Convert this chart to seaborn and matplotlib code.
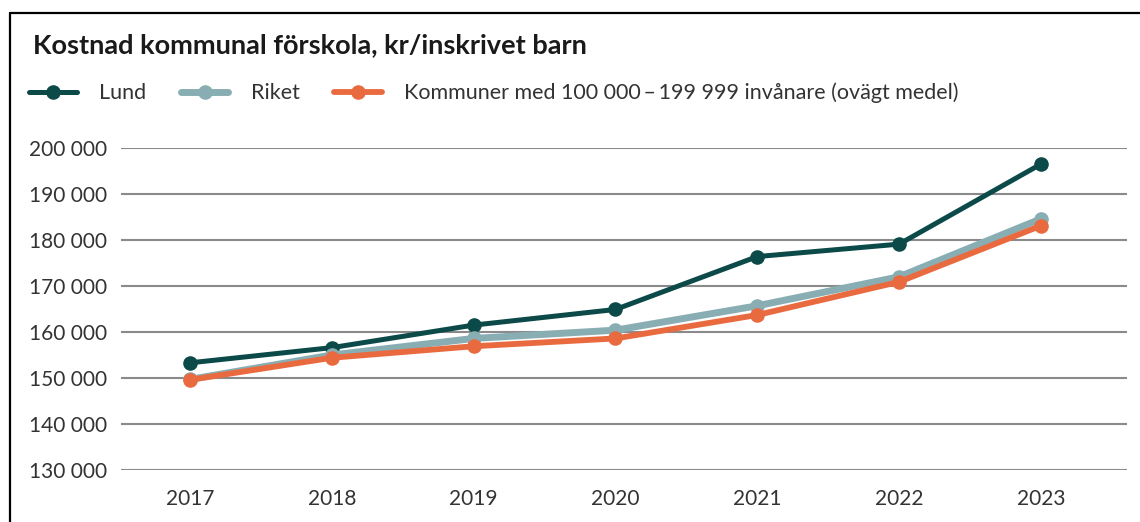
import matplotlib
matplotlib.use("Agg")
import matplotlib.pyplot as plt
import seaborn as sns
import pandas as pd
from matplotlib.lines import Line2D
from matplotlib.ticker import FuncFormatter

years = ["2017", "2018", "2019", "2020", "2021", "2022", "2023"]
lund = [153300, 156600, 161500, 164900, 176400, 179100, 196500]
riket = [149700, 155000, 158600, 160400, 165700, 172000, 184600]
kommuner = [149600, 154400, 156900, 158600, 163700, 170900, 183100]
series_names = ["Lund", "Riket", "Kommuner med 100 000\u2009\u2013\u2009199 999 invånare (ovägt medel)"]
colors = ["#0b4a48", "#88aeb3", "#ea6a40"]
widths = [3.6, 5.0, 4.2]
title = "Kostnad kommunal förskola, kr/inskrivet barn"
yticks = [130000, 140000, 150000, 160000, 170000, 180000, 190000, 200000]

sns.set_theme(style="white")
plt.rcParams["font.family"] = ["Lato", "DejaVu Sans"]

fig = plt.figure(figsize=(11.4, 5.22), dpi=100)
ax = fig.add_axes([121/1140, 1-470/522, (1127-121)/1140, (470-148)/522])

df = pd.DataFrame({"year": years * 3,
                   "x": list(range(len(years))) * 3,
                   "value": lund + riket + kommuner,
                   "series": [s for s in series_names for _ in years]})

handles = []
for name, col, lw in zip(series_names, colors, widths):
    sub = df[df["series"] == name]
    sns.lineplot(data=sub, x="x", y="value", ax=ax, color=col, linewidth=lw,
                 marker="o", markersize=10.5, markeredgewidth=0, legend=False,
                 clip_on=False, zorder=3)
    handles.append(Line2D([0], [0], color=col, linewidth=lw, marker="o",
                          markersize=10.5, markeredgewidth=0))

ax.set_xlim(-0.487, 6.607)
ax.set_ylim(130000, 200000)
ax.set_yticks(yticks)
ax.yaxis.set_major_formatter(FuncFormatter(lambda v, p: f"{int(v):,}".replace(",", " ")))
ax.set_xticks(range(len(years)))
ax.set_xticklabels(years)
ax.set_xlabel("")
ax.set_ylabel("")
for s in ax.spines.values():
    s.set_visible(False)
ax.grid(axis="y", color="#8a8a8a", linewidth=1.5)
ax.grid(axis="x", visible=False)
ax.tick_params(axis="y", length=0, pad=10, labelsize=15, labelcolor="#333333")
ax.tick_params(axis="x", length=0, pad=14, labelsize=15, labelcolor="#333333")

fig.text(33/1140, 1-45/522, title, fontsize=19.5, fontweight="bold", color="#1a1a1a",
         va="center", ha="left")

fig.legend(handles=handles, labels=series_names, loc="center left",
           bbox_to_anchor=(10/1140, 1-93/522), ncol=3, frameon=False,
           fontsize=15.5, handlelength=2.2, handletextpad=1.05, columnspacing=1.6,
           labelcolor="#333333")

# frame lines (top and left)
fig.add_artist(Line2D([10/1140, 1], [1-13/522, 1-13/522], color="black", linewidth=1.6))
fig.add_artist(Line2D([10/1140, 10/1140], [0, 1-13/522], color="black", linewidth=1.6))

fig.savefig("out.png", dpi=100)
